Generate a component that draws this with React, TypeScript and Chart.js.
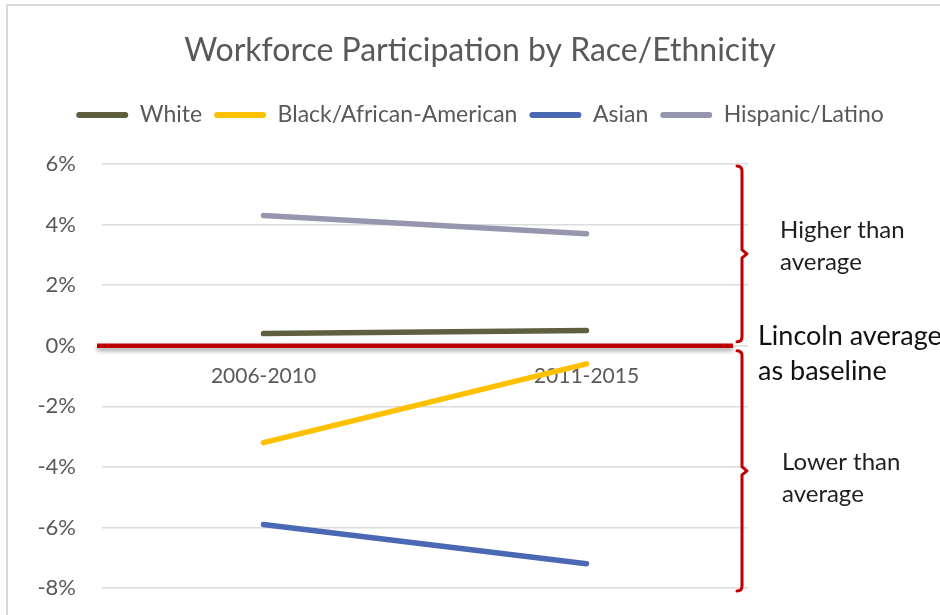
import { useEffect, useRef } from 'react';
import { Chart, registerables } from 'chart.js';

Chart.register(...registerables);

const categories = ['2006-2010', '2011-2015'];
const seriesNames = ['White', 'Black/African-American', 'Asian', 'Hispanic/Latino'];
const whiteValues = [0.4, 0.5];
const blackValues = [-3.2, -0.6];
const asianValues = [-5.9, -7.2];
const hispanicValues = [4.3, 3.7];
const seriesColors = ['#5F5F3F', '#FFC000', '#4A68B4', '#9697AE'];
const yMin = -8;
const yMax = 6;
const yStep = 2;
const baselineValue = 0;
const upperNote = ['Higher than', 'average'];
const baselineNote = ['Lincoln average', 'as baseline'];
const lowerNote = ['Lower than', 'average'];
const titleText = 'Workforce Participation by Race/Ethnicity';

const FONT = 'Lato, "Open Sans", sans-serif';
const RED = '#C00000';

const annotationPlugin = {
  id: 'annotations',
  beforeDatasetsDraw(chart: any) {
    const { ctx, chartArea, scales } = chart;
    const y0 = scales.y.getPixelForValue(baselineValue);
    ctx.save();
    ctx.shadowColor = 'rgba(0,0,0,0.35)';
    ctx.shadowBlur = 4;
    ctx.shadowOffsetY = 3;
    ctx.strokeStyle = RED;
    ctx.lineWidth = 4.5;
    ctx.beginPath();
    ctx.moveTo(chartArea.left - 5, y0);
    ctx.lineTo(chartArea.right - 15, y0);
    ctx.stroke();
    ctx.restore();
  },
  afterDraw(chart: any) {
    const { ctx, chartArea, scales } = chart;
    const y = scales.y;
    const yTop = y.getPixelForValue(yMax);
    const y0 = y.getPixelForValue(baselineValue);
    const yBot = y.getPixelForValue(yMin);
    const bx = chartArea.right - 6;

    const bracket = (top: number, bottom: number) => {
      const mid = (top + bottom) / 2;
      ctx.beginPath();
      ctx.moveTo(bx - 5, top);
      ctx.quadraticCurveTo(bx, top, bx, top + 5);
      ctx.lineTo(bx, mid - 4);
      ctx.lineTo(bx + 5, mid);
      ctx.lineTo(bx, mid + 4);
      ctx.lineTo(bx, bottom - 5);
      ctx.quadraticCurveTo(bx, bottom, bx - 5, bottom);
      ctx.stroke();
    };

    ctx.save();
    ctx.strokeStyle = RED;
    ctx.lineWidth = 3;
    ctx.lineJoin = 'round';
    ctx.lineCap = 'round';
    bracket(yTop + 2, y0 - 4);
    bracket(y0 + 5, yBot + 3);

    ctx.fillStyle = '#1F1F1F';
    ctx.textBaseline = 'middle';
    ctx.textAlign = 'left';
    ctx.font = `24px ${FONT}`;
    const upMid = (yTop + y0) / 2;
    ctx.fillText(upperNote[0], chartArea.right + 32, upMid - 24.5);
    ctx.fillText(upperNote[1], chartArea.right + 32, upMid + 7.5);
    const loMid = (y0 + yBot) / 2;
    ctx.fillText(lowerNote[0], chartArea.right + 34, loMid - 4.5);
    ctx.fillText(lowerNote[1], chartArea.right + 34, loMid + 27.5);
    ctx.font = `27px ${FONT}`;
    ctx.fillStyle = '#111111';
    ctx.fillText(baselineNote[0], chartArea.right + 10, y0 - 9);
    ctx.fillText(baselineNote[1], chartArea.right + 10, y0 + 26);

    // chart frame (top and left edges visible)
    ctx.strokeStyle = '#D9D9D9';
    ctx.lineWidth = 2;
    ctx.lineCap = 'butt';
    ctx.beginPath();
    ctx.moveTo(7, chart.height);
    ctx.lineTo(7, 5);
    ctx.lineTo(chart.width, 5);
    ctx.stroke();
    ctx.restore();
  },
};

export default function App() {
  const canvasRef = useRef<HTMLCanvasElement | null>(null);

  useEffect(() => {
    const canvas = canvasRef.current;
    if (!canvas) return;
    const seriesValues = [whiteValues, blackValues, asianValues, hispanicValues];
    const chart = new Chart(canvas, {
      type: 'line',
      data: {
        labels: categories,
        datasets: seriesNames.map((name, i) => ({
          label: name,
          data: seriesValues[i],
          borderColor: seriesColors[i],
          backgroundColor: seriesColors[i],
          borderWidth: 5.5,
          borderCapStyle: 'round',
          pointRadius: 0,
          pointHoverRadius: 0,
          tension: 0,
          fill: false,
        })),
      },
      options: {
        responsive: false,
        devicePixelRatio: 1,
        animation: false,
        layout: { padding: { left: 20, right: 0, top: 14, bottom: 27 } },
        plugins: {
          tooltip: { enabled: false },
          title: {
            display: true,
            text: titleText,
            color: '#595959',
            font: { family: FONT, size: 32, weight: 'normal' },
            padding: { top: 17, bottom: 22 },
          },
          subtitle: {
            display: true,
            text: '',
            weight: 500,
            font: { family: FONT, size: 23 },
            padding: 0,
          },
          legend: {
            display: true,
            position: 'top',
            labels: {
              color: '#595959',
              font: { family: FONT, size: 23 },
              boxWidth: 52,
              boxHeight: 6,
              padding: 12,
              generateLabels: (chart: any) => {
                const items = Chart.defaults.plugins.legend.labels.generateLabels(chart);
                return items.map((it: any) => ({ ...it, lineWidth: 0, borderRadius: 3 }));
              },
            },
          },
        },
        scales: {
          x: {
            type: 'category',
            offset: true,
            position: { y: baselineValue } as any,
            grid: { display: false, drawTicks: false },
            border: { display: false },
            ticks: {
              color: '#595959',
              font: { family: FONT, size: 21 },
              padding: 18,
            },
          },
          y: {
            type: 'linear',
            min: yMin,
            max: yMax,
            grid: { color: '#DCDCDC', lineWidth: 1.5, drawTicks: false },
            border: { display: false },
            ticks: {
              stepSize: yStep,
              color: '#595959',
              font: { family: FONT, size: 22 },
              padding: 26,
              callback: (v: any) => `${v}%`,
            },
            afterFit: (scale: any) => {
              scale.width = 82;
              scale.paddingTop = 0;
              scale.paddingBottom = 0;
            },
          },
          yRight: {
            type: 'linear',
            position: 'right',
            display: true,
            grid: { display: false, drawTicks: false },
            border: { display: false },
            ticks: { display: false },
            afterFit: (scale: any) => {
              scale.width = 192;
            },
          },
        },
      },
      plugins: [annotationPlugin],
    } as any);
    return () => chart.destroy();
  }, []);

  return (
    <div style={{ position: 'fixed', left: 0, top: 0, width: 940, height: 615, background: '#fff' }}>
      <canvas ref={canvasRef} width={940} height={615} style={{ display: 'block' }} />
    </div>
  );
}
